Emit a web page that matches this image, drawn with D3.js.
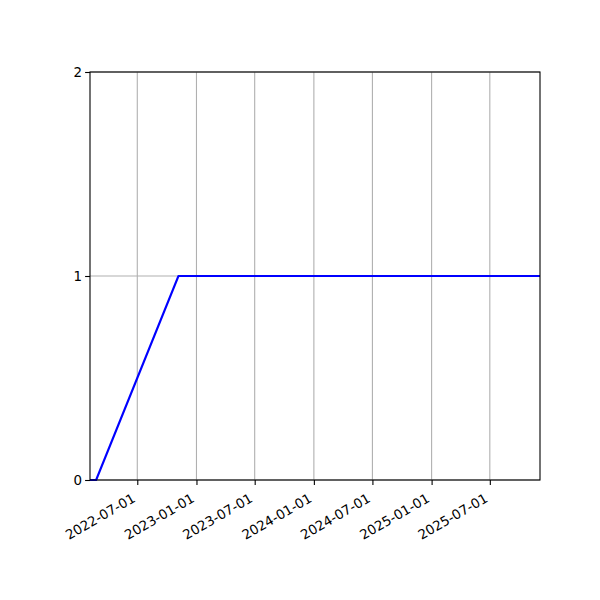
<!DOCTYPE html>
<html><head><meta charset="utf-8">
<script src="https://cdn.jsdelivr.net/npm/d3@7"></script>
<style>body{margin:0;background:#fff}</style>
</head><body>
<svg id="c" width="600" height="600"></svg>
<script>
const dates = ["2022-02-04","2022-02-23","2022-11-06","2025-12-04"];
const values = [0, 0, 1, 1];
const xTicks = ["2022-07-01","2023-01-01","2023-07-01","2024-01-01","2024-07-01","2025-01-01","2025-07-01"];
const yTicks = [0, 1, 2];

const parse = d3.utcParse("%Y-%m-%d");
const data = dates.map((d,i)=>({t:parse(d), v:values[i]}));
const m = {l:90, r:540, t:72, b:480};
const svg = d3.select("#c");
const x = d3.scaleUtc().domain([data[0].t, data[data.length-1].t]).range([m.l, m.r]);
const y = d3.scaleLinear().domain([0,2]).range([m.b, m.t]);
const font = "DejaVu Sans, sans-serif";

// grid
const g = svg.append("g");
g.selectAll("line.vx").data(xTicks.map(parse)).enter().append("line")
  .attr("x1",d=>x(d)).attr("x2",d=>x(d)).attr("y1",m.t).attr("y2",m.b)
  .attr("stroke","#b0b0b0").attr("stroke-width",1.1);
g.selectAll("line.hy").data(yTicks).enter().append("line")
  .attr("y1",d=>y(d)).attr("y2",d=>y(d)).attr("x1",m.l).attr("x2",m.r)
  .attr("stroke","#b0b0b0").attr("stroke-width",1.1);

// line
svg.append("path").datum(data)
  .attr("d", d3.line().x(d=>x(d.t)).y(d=>y(d.v)))
  .attr("fill","none").attr("stroke","#0000ff").attr("stroke-width",2.1)
  .attr("stroke-linejoin","round");

// axes
const xa = svg.append("g").attr("transform",`translate(0,${m.b})`)
  .call(d3.axisBottom(x).tickValues(xTicks.map(parse)).tickFormat(d3.utcFormat("%Y-%m-%d")).tickSize(4.9).tickSizeOuter(0));
xa.select(".domain").remove();
xa.selectAll("line").attr("stroke","#000").attr("stroke-width",1.1);
xa.selectAll("text").attr("font-family",font).attr("font-size",13.4).attr("fill","#000")
  .attr("text-anchor","end").attr("dy",null).attr("y",0)
  .attr("transform","translate(-1.5,21) rotate(-30)");

const ya = svg.append("g").attr("transform",`translate(${m.l},0)`)
  .call(d3.axisLeft(y).tickValues(yTicks).tickFormat(d3.format("d")).tickSize(4.9).tickSizeOuter(0));
ya.select(".domain").remove();
ya.selectAll("line").attr("stroke","#000").attr("stroke-width",1.1);
ya.selectAll("text").attr("font-family",font).attr("font-size",13.4).attr("fill","#000").attr("x",-8);

// frame
svg.append("rect").attr("x",m.l).attr("y",m.t).attr("width",m.r-m.l).attr("height",m.b-m.t)
  .attr("fill","none").attr("stroke","#000").attr("stroke-width",1.1);
</script>
</body></html>
